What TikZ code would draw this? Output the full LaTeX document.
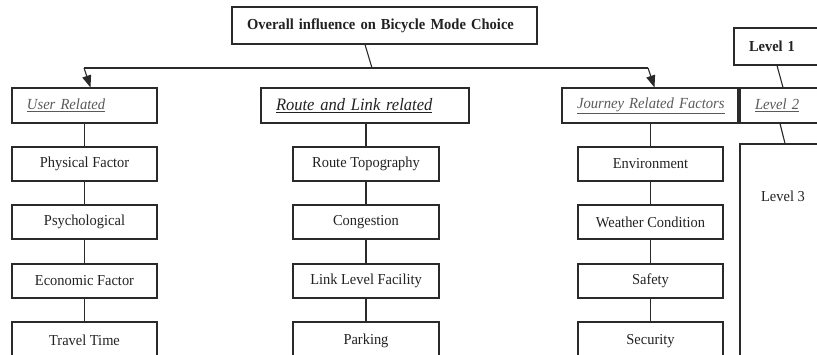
\documentclass[tikz,border=0pt]{standalone}
\usepackage{fontspec}
\setmainfont[FakeStretch=0.95]{Liberation Serif}
\usetikzlibrary{arrows.meta}
\definecolor{linec}{HTML}{2A2A2A}
\definecolor{txtc}{HTML}{222222}
\definecolor{graytxt}{HTML}{5A5A5A}
\begin{document}
\begin{tikzpicture}[x=1pt,y=-1pt,
  basebox/.style={draw=linec, line width=1.1pt, fill=white, inner sep=0pt,
    font=\fontsize{15.2}{18}\selectfont, text=txtc},
  rowbox/.style={basebox, minimum width=145pt, minimum height=34pt},
  lvlbox/.style={basebox, minimum height=35pt, align=left, inner xsep=15pt,
    font=\fontsize{15.4}{18}\selectfont\itshape, text=graytxt},
  conn/.style={draw=linec, line width=1.1pt},
  arr/.style={conn, -{Triangle[length=12pt,width=9pt]}}]
\useasboundingbox (0,0) rectangle (817,355);
\clip (0,0) rectangle (817,355);

% level 1
\node[basebox, minimum height=37pt, text width=275pt, inner xsep=15pt, align=left,
  font=\fontsize{15.3}{18}\selectfont\bfseries] (top) at (384.5,25.5)
  {Overall influence on Bicycle Mode Choice};

% level 2
\node[lvlbox, text width=115pt] (user) at (84.5,105.5) {\underline{User Related}};
\node[lvlbox, text width=178pt, font=\fontsize{17.4}{20}\selectfont\itshape, text=txtc]
  (route) at (365,105.5) {\underline{Route and Link related}};
\node[lvlbox, text width=146pt] (jour) at (650,105.5) {\underline{Journey Related Factors}};

% legend
\node[basebox, minimum height=37pt, text width=76pt, inner xsep=15pt, align=left,
  font=\fontsize{15.2}{18}\selectfont\bfseries] (lv1) at (787,46.5) {Level 1};
\node[lvlbox, text width=70pt] (lv2) at (790,105.5) {\underline{Level 2}};
\node[basebox, anchor=north, minimum width=86pt, inner ysep=47pt,
  text height=10.5pt, text depth=200pt] (lv3) at (783,143.5) {Level 3};

% level 3 rows
\foreach \name/\cx in {a/84.5, b/366, c/650.5}{
  \foreach \r/\cy in {1/164, 2/222, 3/281, 4/341}{
    \coordinate (\name\r pos) at (\cx,\cy);
  }
}
\node[rowbox] (a1) at (a1pos) {Physical Factor};
\node[rowbox] (a2) at (a2pos) {Psychological};
\node[rowbox] (a3) at (a3pos) {Economic Factor};
\node[rowbox, minimum height=38pt] (a4) at (a4pos) {\raisebox{2pt}{Travel Time}};
\node[rowbox, minimum width=146pt] (b1) at (b1pos) {Route Topography};
\node[rowbox, minimum width=146pt] (b2) at (b2pos) {Congestion};
\node[rowbox, minimum width=146pt] (b3) at (b3pos) {Link Level Facility};
\node[rowbox, minimum width=146pt, minimum height=38pt] (b4) at (b4pos) {\raisebox{2pt}{Parking}};
\node[rowbox] (c1) at (c1pos) {Environment};
\node[rowbox] (c2) at (c2pos) {Weather Condition};
\node[rowbox] (c3) at (c3pos) {Safety};
\node[rowbox, minimum height=38pt] (c4) at (c4pos) {\raisebox{2pt}{Security}};

% connectors
\coordinate (jl) at (84,68);
\coordinate (jm) at (372,68);
\coordinate (jr) at (648,68);
\draw[conn] ([xshift=-19.5pt]top.south) -- (jm);
\draw[conn] (jl) -- (jr);
\draw[arr] (jl) -- ([xshift=6pt]user.north);
\draw[arr] (jr) -- ([xshift=4.5pt]jour.north);

\draw[conn] (user.south) -- (a1.north);
\draw[conn] (a1) -- (a2);
\draw[conn] (a2) -- (a3);
\draw[conn] (a3) -- (a4);
\draw[conn] (b1.north |- route.south) -- (b1.north);
\draw[conn] (b1) -- (b2);
\draw[conn] (b2) -- (b3);
\draw[conn] (b3) -- (b4);
\draw[conn] (c1.north |- jour.south) -- (c1.north);
\draw[conn] (c1) -- (c2);
\draw[conn] (c2) -- (c3);
\draw[conn] (c3) -- (c4);

\draw[conn] ([xshift=-10pt]lv1.south) -- ([xshift=-7pt]lv2.north);
\draw[conn] ([xshift=-10pt]lv2.south) -- ([xshift=2pt]lv3.north);
\end{tikzpicture}
\end{document}
